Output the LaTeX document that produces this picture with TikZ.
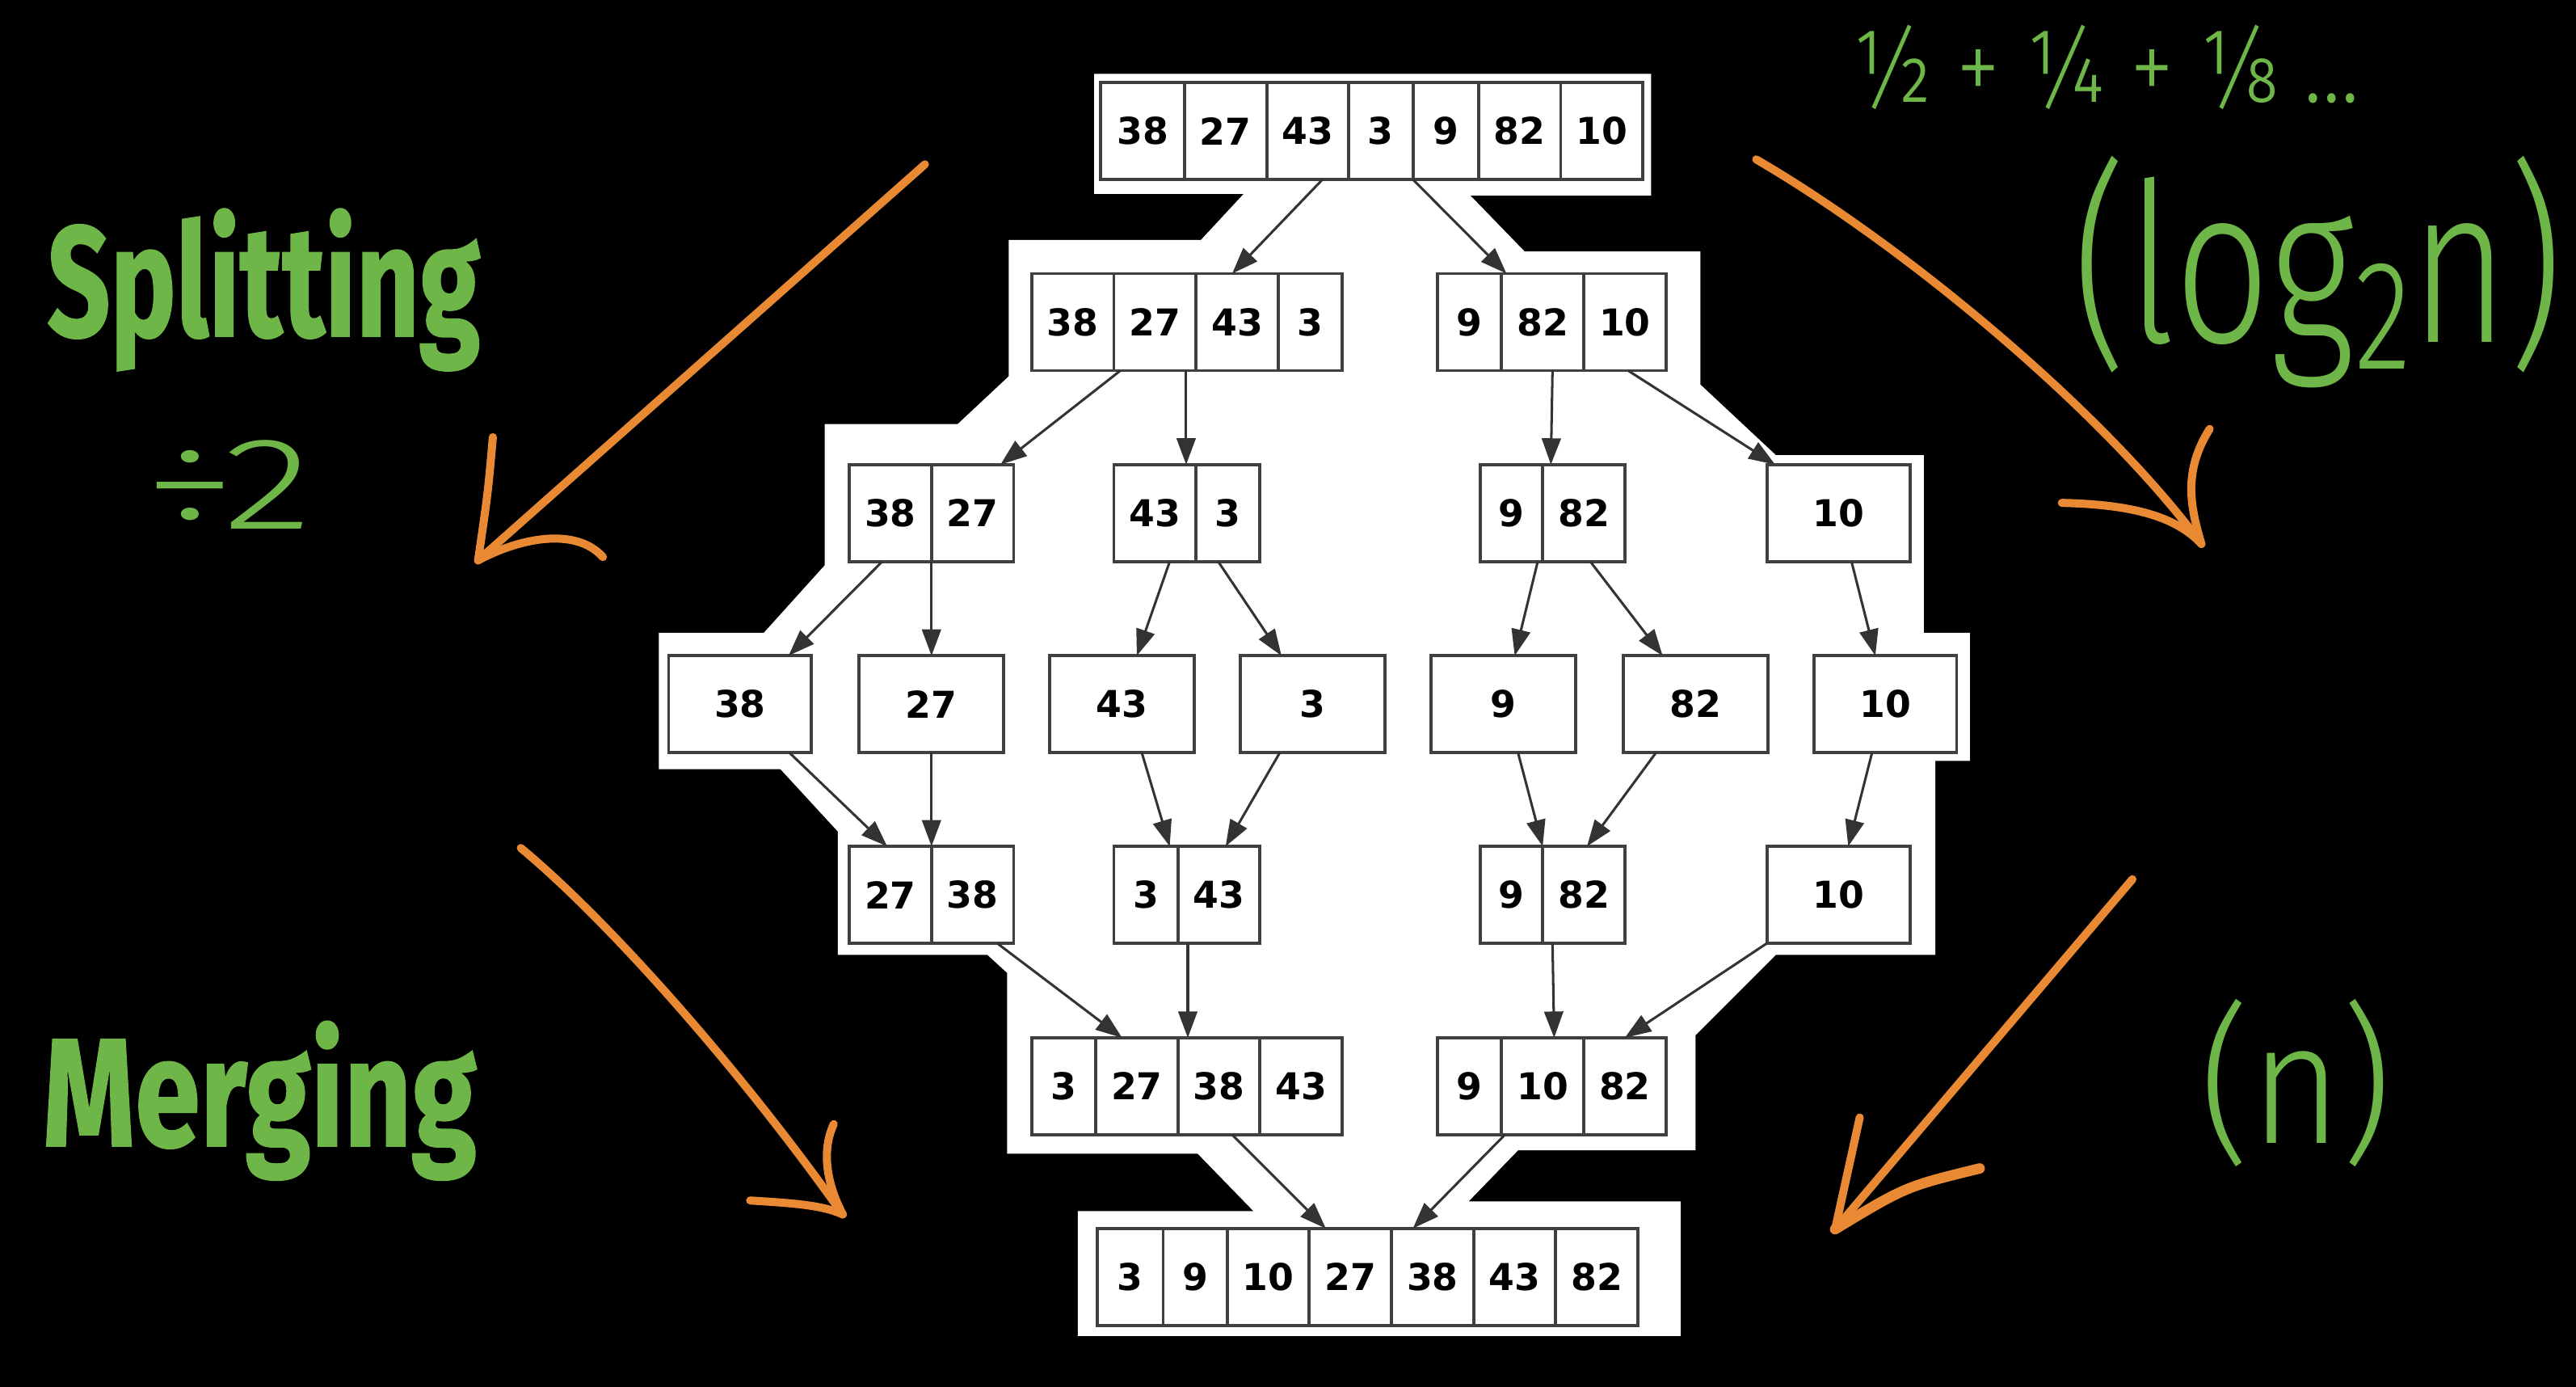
\documentclass[tikz,border=0pt]{standalone}
\usepackage{fontspec}
\usepackage{graphicx}
\usetikzlibrary{arrows.meta,calc}
\definecolor{orangepen}{RGB}{234,137,52}
\definecolor{greenpen}{RGB}{110,182,72}
\newfontfamily\cellfont{DejaVu Sans}
\newfontfamily\headfont[FakeBold=1]{Fira Sans}
\newfontfamily\handfont{Fira Sans Light}
\begin{document}
\begin{tikzpicture}[x=0.2mm, y=-0.2mm,
    cell/.style={draw=black!75, line width=1.1pt, fill=white, minimum height=11.8mm,
      inner sep=0pt, outer sep=0pt, font=\cellfont\bfseries\fontsize{12.8}{15}\selectfont},
    edge/.style={draw=black!80, line width=0.85pt, -{Triangle[length=3.2mm,width=2.3mm]}},
    stroke/.style={draw=orangepen, line width=2.8pt, line cap=round, line join=round},
    pen/.style={text=greenpen, inner sep=0pt, outer sep=0pt}]
                \useasboundingbox (0,0) rectangle (1568,844);
                \fill[black] (0,0) rectangle (1568,844);
                %% white sheet behind the tree
                \fill[white] (666,45) -- (1005,45) -- (1005,119) -- (895,119) -- (928,153) -- (1035,153)
                    -- (1035,234) -- (1081,277) -- (1171,277) -- (1171,385) -- (1199,385) -- (1199,463)
                    -- (1178,463) -- (1178,581) -- (1081,581) -- (1032,630) -- (1032,700) -- (924,700)
                    -- (894,731) -- (1023,731) -- (1023,813) -- (656,813) -- (656,737) -- (763,737)
                    -- (729,702) -- (613,702) -- (613,592) -- (601,581) -- (510,581) -- (510,506)
                    -- (475,468) -- (401,468) -- (401,385) -- (465,385) -- (502,344) -- (502,258)
                    -- (583,258) -- (614,229) -- (614,146) -- (731,146) -- (757,118) -- (666,118) -- cycle;
                %% row 1
                \foreach \i/\a/\b/\v in {1/670/721/38,2/721/771/27,3/771/821/43,4/821/860/3,5/860/900/9,6/900/950/82,7/950/1000/10}
                    \node[cell, minimum width={(\b-\a)*0.2mm}] (top\i) at ({(\a+\b)/2},79.7) {\v};
                %% row 2
                \foreach \i/\a/\b/\v in {1/628/678/38,2/678/728/27,3/728/778/43,4/778/817/3}
                    \node[cell, minimum width={(\b-\a)*0.2mm}] (hl\i) at ({(\a+\b)/2},196) {\v};
                \foreach \i/\a/\b/\v in {1/875/914/9,2/914/964/82,3/964/1014/10}
                    \node[cell, minimum width={(\b-\a)*0.2mm}] (hr\i) at ({(\a+\b)/2},196) {\v};
                %% row 3
                \foreach \i/\a/\b/\v in {1/517/567/38,2/567/617/27}
                    \node[cell, minimum width={(\b-\a)*0.2mm}] (qa\i) at ({(\a+\b)/2},312.2) {\v};
                \foreach \i/\a/\b/\v in {1/678/728/43,2/728/767/3}
                    \node[cell, minimum width={(\b-\a)*0.2mm}] (qb\i) at ({(\a+\b)/2},312.2) {\v};
                \foreach \i/\a/\b/\v in {1/901/939/9,2/939/989/82}
                    \node[cell, minimum width={(\b-\a)*0.2mm}] (qc\i) at ({(\a+\b)/2},312.2) {\v};
                \node[cell, minimum width=17.4mm] (qd) at (1119,312.2) {10};
                %% row 4
                \foreach \i/\a/\b/\v in {1/407/494/38,2/523/611/27,3/639/727/43,4/755/843/3,5/871/959/9,6/988/1076/82,7/1104/1191/10}
                    \node[cell, minimum width={(\b-\a)*0.2mm}] (s\i) at ({(\a+\b)/2},428.5) {\v};
                %% row 5
                \foreach \i/\a/\b/\v in {1/517/567/27,2/567/617/38}
                    \node[cell, minimum width={(\b-\a)*0.2mm}] (pa\i) at ({(\a+\b)/2},544.5) {\v};
                \foreach \i/\a/\b/\v in {1/678/717/3,2/717/767/43}
                    \node[cell, minimum width={(\b-\a)*0.2mm}] (pb\i) at ({(\a+\b)/2},544.5) {\v};
                \foreach \i/\a/\b/\v in {1/901/939/9,2/939/989/82}
                    \node[cell, minimum width={(\b-\a)*0.2mm}] (pc\i) at ({(\a+\b)/2},544.5) {\v};
                \node[cell, minimum width=17.4mm] (pd) at (1119,544.5) {10};
                %% row 6
                \foreach \i/\a/\b/\v in {1/628/667/3,2/667/717/27,3/717/767/38,4/767/817/43}
                    \node[cell, minimum width={(\b-\a)*0.2mm}] (ml\i) at ({(\a+\b)/2},661) {\v};
                \foreach \i/\a/\b/\v in {1/875/914/9,2/914/964/10,3/964/1014/82}
                    \node[cell, minimum width={(\b-\a)*0.2mm}] (mr\i) at ({(\a+\b)/2},661) {\v};
                %% row 7
                \foreach \i/\a/\b/\v in {1/668/708/3,2/708/747/9,3/747/797/10,4/797/847/27,5/847/897/38,6/897/947/43,7/947/997/82}
                    \node[cell, minimum width={(\b-\a)*0.2mm}] (out\i) at ({(\a+\b)/2},777) {\v};
                %% splitting edges
                \draw[edge] ($(top3.south)+(9,0)$) -- ($(hl3.north)+(-3,0)$);
                \draw[edge] (top4.south east) -- ($(hr1.north east)+(3,0)$);
                \draw[edge] ($(hl1.south east)+(4,0)$) -- ($(qa2.north east)+(-8,0)$);
                \draw[edge] ($(hl2.south east)+(-6,0)$) -- ($(qb1.north east)+(-6,0)$);
                \draw[edge] ($(hr2.south)+(6,0)$) -- ($(qc2.north west)+(5,0)$);
                \draw[edge] ($(hr3.south)+(2,0)$) -- ($(qd.north west)+(5,0)$);
                \draw[edge] ($(qa1.south)+(-5,0)$) -- ($(s1.north east)+(-14,0)$);
                \draw[edge] (qa1.south east) -- (s2.north);
                \draw[edge] ($(qb1.south)+(9,0)$) -- ($(s3.north)+(9,0)$);
                \draw[edge] ($(qb2.south)+(-6,0)$) -- ($(s4.north)+(-19,0)$);
                \draw[edge] ($(qc1.south east)+(-3,0)$) -- ($(s5.north)+(7,0)$);
                \draw[edge] ($(qc2.south)+(4,0)$) -- ($(s6.north)+(-20,0)$);
                \draw[edge] ($(qd.south)+(8,0)$) -- ($(s7.north)+(-6,0)$);
                %% merging edges
                \draw[edge] ($(s1.south)+(30,0)$) -- ($(pa1.north)+(-2,0)$);
                \draw[edge] (s2.south) -- (pa1.north east);
                \draw[edge] ($(s3.south)+(12,0)$) -- ($(pb1.north east)+(-5,0)$);
                \draw[edge] ($(s4.south)+(-20,0)$) -- ($(pb2.north)+(4,0)$);
                \draw[edge] ($(s5.south)+(9,0)$) -- (pc1.north east);
                \draw[edge] ($(s6.south)+(-24,0)$) -- ($(pc2.north)+(2,0)$);
                \draw[edge] ($(s7.south)+(-8,0)$) -- ($(pd.north)+(6,0)$);
                \draw[edge] ($(pa2.south)+(15,0)$) -- ($(ml2.north)+(-9,0)$);
                \draw[edge] ($(pb2.south west)+(6,0)$) -- ($(ml3.north west)+(6,0)$);
                \draw[edge] ($(pc2.south west)+(6,0)$) -- ($(mr2.north)+(7,0)$);
                \draw[edge] (pd.south west) -- (mr3.north);
                \draw[edge] ($(ml3.south)+(8,0)$) -- ($(out4.north)+(-15,0)$);
                \draw[edge] ($(mr1.south east)+(2,0)$) -- ($(out5.north)+(-12,0)$);
                %% labels
                \node[pen, anchor=base west] (splitlbl) at (28.8,204.5) {\resizebox{52.7mm}{15.5mm}{\headfont\bfseries Splitting}};
                \node[pen, anchor=base west] (divlbl) at (88,322) {\resizebox{20.4mm}{10.8mm}{\handfont ÷2}};
                \node[pen, anchor=base west] (mergelbl) at (26,697.4) {\resizebox{52.8mm}{15.2mm}{\headfont\bfseries Merging}};
                \node[pen, anchor=base west] (sumlbl) at (1127,62) {\resizebox{61.8mm}{9.4mm}{\handfont ½ + ¼ + ⅛ ...}};
                \node[pen, anchor=north west] (loglbl) at (1262,95) {\resizebox*{59.6mm}{28.2mm}{\handfont (log\raisebox{-0.12em}{\scriptsize 2}n)}};
                \node[pen, anchor=north west] (nlbl) at (1339,608) {\resizebox*{23.4mm}{20.4mm}{\handfont (n)}};
                %% orange pen arrows
                \draw[stroke] (563,100) -- (291,341);
                \draw[stroke] (300,266) .. controls (297,300) .. (291,341) .. controls (315,328) and (350,320) .. (367,339);
                \draw[stroke] (1069,97) .. controls (1160,150) and (1280,250) .. (1340,331);
                \draw[stroke] (1345,261) .. controls (1330,285) and (1332,305) .. (1340,331);
                \draw[stroke] (1255,306) .. controls (1300,307) and (1325,315) .. (1340,331);
                \draw[stroke] (317,516) .. controls (370,560) and (450,650) .. (513,739);
                \draw[stroke] (507.5,684) .. controls (500,700) and (503,720) .. (513,739);
                \draw[stroke] (456.6,730.5) .. controls (480,732) and (500,733) .. (513,739);
                \draw[stroke] (1298,535) -- (1117,748);
                \draw[stroke] (1132,680) -- (1117,748);
                \draw[stroke, line width=3.6pt] (1205,711) .. controls (1160,722) .. (1117,748);
            \end{tikzpicture}
\end{document}
